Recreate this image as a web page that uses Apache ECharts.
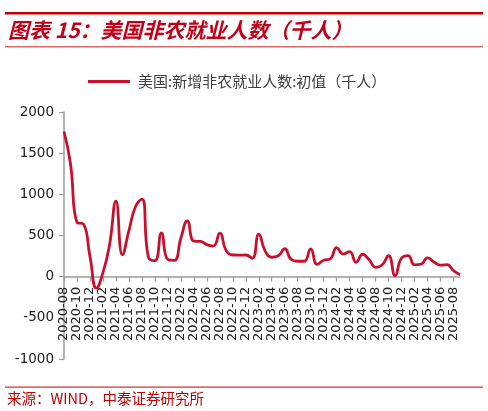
<!DOCTYPE html>
<html><head><meta charset="utf-8">
<script src="https://cdn.jsdelivr.net/npm/echarts@6/dist/echarts.min.js"></script>
<style>html,body{margin:0;padding:0;background:#fff}#c{width:488px;height:411px}</style>
</head><body><div id="c"></div>
<script>
// Release-month dated initial nonfarm payroll prints (thousand persons)
const categories = [
  '2020-08','2020-09','2020-10','2020-11','2020-12',
  '2021-01','2021-02','2021-03','2021-04','2021-05','2021-06','2021-07','2021-08','2021-09','2021-10','2021-11','2021-12',
  '2022-01','2022-02','2022-03','2022-04','2022-05','2022-06','2022-07','2022-08','2022-09','2022-10','2022-11','2022-12',
  '2023-01','2023-02','2023-03','2023-04','2023-05','2023-06','2023-07','2023-08','2023-09','2023-10','2023-11','2023-12',
  '2024-01','2024-02','2024-03','2024-04','2024-05','2024-06','2024-07','2024-08','2024-09','2024-10','2024-11','2024-12',
  '2025-01','2025-02','2025-03','2025-04','2025-05','2025-06','2025-07','2025-08','2025-09'
];
const payrolls = [
  1763, 1371, 661, 638, 245,
  -140, 49, 379, 916, 266, 559, 850, 943, 235, 194, 531, 210,
  199, 467, 678, 431, 428, 390, 372, 528, 315, 263, 261, 263,
  223, 517, 311, 236, 253, 339, 209, 187, 187, 336, 150, 199,
  216, 353, 275, 303, 175, 272, 206, 114, 142, 254, 12, 227,
  256, 143, 151, 228, 177, 139, 147, 73, 22
];
const yMin = -1000, yMax = 2000, yStep = 500;
const seriesName = '美国:新增非农就业人数:初值（千人）';
const titleText = '图表 15：美国非农就业人数（千人）';
const sourceText = '来源：WIND，中泰证券研究所';

const RED = '#C8102E';
const AX = '#9c9c9c';
const GRID_TOP = 112, GRID_BOTTOM = 52, H = 411;
const plotH = H - GRID_TOP - GRID_BOTTOM;
// place the category axis on the zero line
const zeroOffset = -plotH * (0 - yMin) / (yMax - yMin);

const chart = echarts.init(document.getElementById('c'), null, {renderer: 'canvas'});
chart.setOption({
  animation: false,
  backgroundColor: '#fff',
  grid: {left: 64, right: 28, top: GRID_TOP, bottom: GRID_BOTTOM, containLabel: false, outerBoundsMode: 'none'},
  legend: {
    data: [seriesName], left: 83, top: 69,
    icon: 'rect', itemWidth: 42, itemHeight: 3,
    textStyle: {fontFamily: '"Noto Sans CJK SC"', fontSize: 15, color: '#404040', padding: [0, 0, 0, 3]}
  },
  xAxis: {
    type: 'category', data: categories, boundaryGap: false,
    offset: zeroOffset,
    axisLine: {onZero: false, lineStyle: {color: AX, width: 1.5}},
    axisTick: {interval: 1, length: 5, lineStyle: {color: AX, width: 1.2}},
    axisLabel: {interval: 1, rotate: 90, margin: 10, fontFamily: '"DejaVu Sans"', fontSize: 13, color: '#222', padding: [0, 0, 4, 0]}
  },
  yAxis: {
    type: 'value', min: yMin, max: yMax, interval: yStep,
    splitLine: {show: false},
    axisLine: {show: true, lineStyle: {color: AX, width: 1.5}},
    axisTick: {show: true, length: 5, lineStyle: {color: AX, width: 1.2}},
    axisLabel: {margin: 10, fontFamily: '"DejaVu Sans"', fontSize: 13.5, color: '#222', formatter: v => String(v)}
  },
  series: [{
    type: 'line', name: seriesName, data: payrolls,
    smooth: 0.5, symbol: 'none',
    lineStyle: {color: RED, width: 2.8}, itemStyle: {color: RED}
  }],
  graphic: [
    {type: 'rect', shape: {x: 5, y: 12, width: 478, height: 2.5}, style: {fill: '#C00000'}},
    {type: 'text', x: 8, y: 30, style: {text: titleText, font: 'italic bold 21px "Noto Sans CJK SC"', fill: '#C00018', verticalAlign: 'middle'}},
    {type: 'rect', shape: {x: 5, y: 46, width: 478, height: 1.5}, style: {fill: '#D86A6A'}},
    {type: 'rect', shape: {x: 5, y: 386.5, width: 478, height: 1.2}, style: {fill: '#D83030'}},
    {type: 'text', x: 7, y: 398, style: {text: sourceText, font: '14.5px "Noto Sans CJK SC"', fill: '#C00000', verticalAlign: 'middle'}}
  ]
});
</script></body></html>
